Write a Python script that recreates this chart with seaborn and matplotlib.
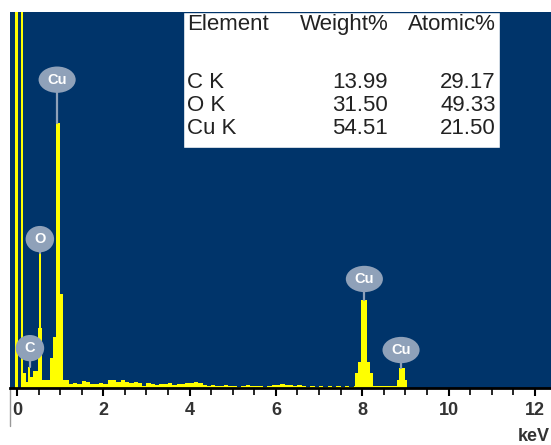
import matplotlib
matplotlib.use('Agg')
import matplotlib.pyplot as plt
from matplotlib.patches import Ellipse, Rectangle
from matplotlib.ticker import MultipleLocator
import numpy as np
import seaborn as sns

sns.set_style('white')
plt.rcParams['font.family'] = ['Liberation Sans', 'DejaVu Sans']

# EDS spectrum: bin edges (keV) and counts (scale 0-100 = plot height)
edges_low = [-0.05, 0.02, 0.09, 0.14, 0.21, 0.25, 0.30, 0.37, 0.49, 0.52, 0.56,
             0.58, 0.76, 0.83, 0.90, 0.99, 1.07, 1.2]
counts_low = [130, 0, 130, 4, 1.5, 5.5, 3, 4.5, 16, 36, 16, 2, 8, 13.5, 70.5, 25, 2]

# background, 0.1 keV bins from 1.2 to 7.8 keV
counts_bg = [1.1, 1.2, 1.0, 1.8, 1.7, 1.1, 1.0, 1.2, 1.1, 2.0, 2.2, 1.6, 2.1,
             1.5, 1.3, 1.6, 1.4, 0.6, 1.2, 1.0, 0.9, 1.1, 1.0, 1.2, 0.9, 1.0, 1.1,
             1.4, 1.3, 1.5, 1.2, 0.7, 0.5, 0.8, 0.6, 0.4, 0.7, 0.5, 0.6, 0.3, 0.6,
             0.7, 0.4, 0.5, 0.6, 0.3, 0.5, 0.9, 0.8, 1.0, 0.7, 0.9, 0.6, 0.8,
             0.4, 0.3, 0.5, 0.3, 0.4, 0.3, 0.4, 0.3, 0.5, 0.3, 0.4, 0.3]
edges_bg = [round(1.2 + 0.1 * i, 2) for i in range(len(counts_bg))]

# Cu K alpha / K beta region
edges_cu = [7.8, 7.83, 7.9, 7.97, 8.11, 8.18, 8.25, 8.81, 8.85, 8.99, 9.04, 12.4]
counts_cu = [0.4, 4, 7, 23.4, 7, 4, 0.4, 2, 5.3, 2, 0]

edges = edges_low[:-1] + edges_bg + edges_cu
counts = counts_low + counts_bg + counts_cu

# peak labels
label_text = ['C', 'O', 'Cu', 'Cu', 'Cu']
label_x = [0.30, 0.53, 0.93, 8.05, 8.90]
label_y = [10.6, 39.6, 82.0, 29.0, 10.1]
peak_top = [5.5, 36.0, 70.5, 23.4, 5.3]

# quantification table
elements = ['C K', 'O K', 'Cu K']
weight_pct = [13.99, 31.50, 54.51]
atomic_pct = [29.17, 49.33, 21.50]

navy = '#00346a'
label_col = '#8fa1b9'
txt_col = '#222222'

fig = plt.figure(figsize=(5.51, 4.45), dpi=100)
ax = fig.add_axes([10 / 551, (445 - 388) / 445, 541 / 551, 376 / 445])
ax.set_facecolor(navy)

centers = [(a + b) / 2 for a, b in zip(edges[:-1], edges[1:])]
sns.histplot(x=centers, weights=counts, bins=edges, element='step', fill=True,
             color='#ffff00', alpha=1, linewidth=0, ax=ax)

# label stems and balloons
for t, x, y, top in zip(label_text, label_x, label_y, peak_top):
    ax.plot([x, x], [top, y], color=label_col, lw=1.6, zorder=3)
    w = 0.86 if len(t) > 1 else 0.66
    ax.add_patch(Ellipse((x, y), w, 7.0, fc=label_col, ec='none', zorder=4))
    ax.text(x, y, t, ha='center', va='center', color='white', fontsize=10.5,
            fontweight='bold', zorder=5)

# table box
ax.add_patch(Rectangle((0.32, 0.638), 0.586, 0.362, transform=ax.transAxes,
                       fc='white', ec=navy, lw=1, zorder=6))
fs = 16
hdr_y = 0.966
ax.text(0.327, hdr_y, 'Element', transform=ax.transAxes, ha='left', va='center',
        fontsize=fs, color=txt_col, zorder=7)
ax.text(0.699, hdr_y, 'Weight%', transform=ax.transAxes, ha='right', va='center',
        fontsize=fs, color=txt_col, zorder=7)
ax.text(0.898, hdr_y, 'Atomic%', transform=ax.transAxes, ha='right', va='center',
        fontsize=fs, color=txt_col, zorder=7)
row_y = [0.812, 0.751, 0.690]
for el, w, a, y in zip(elements, weight_pct, atomic_pct, row_y):
    ax.text(0.327, y, el, transform=ax.transAxes, ha='left', va='center',
            fontsize=fs, color=txt_col, zorder=7)
    ax.text(0.699, y, f'{w:.2f}', transform=ax.transAxes, ha='right', va='center',
            fontsize=fs, color=txt_col, zorder=7)
    ax.text(0.898, y, f'{a:.2f}', transform=ax.transAxes, ha='right', va='center',
            fontsize=fs, color=txt_col, zorder=7)

ax.set_xlim(-0.162, 12.375)
ax.set_ylim(0, 100)
ax.set_xlabel('')
ax.set_ylabel('')
ax.set_yticks([])
ax.xaxis.set_major_locator(MultipleLocator(2))
ax.xaxis.set_minor_locator(MultipleLocator(0.5))
ax.tick_params(axis='x', which='both', direction='out', colors='black',
               labelcolor='#333333', bottom=True)
ax.tick_params(axis='x', which='major', length=6, width=1.5, pad=4,
               labelsize=13)
ax.tick_params(axis='x', which='minor', length=5, width=1.2)
for lab in ax.get_xticklabels():
    lab.set_fontweight('bold')
for s in ['top', 'right', 'left']:
    ax.spines[s].set_visible(False)
ax.spines['bottom'].set_color('black')
ax.spines['bottom'].set_linewidth(2)
ax.plot([0, 0], [0, -0.1], transform=ax.transAxes, color='#999999', lw=1,
        clip_on=False)

fig.text(0.997, 0.018, 'keV', ha='right', va='center', fontsize=13,
         fontweight='bold', color='#333333')

fig.savefig('out.png', dpi=100)
